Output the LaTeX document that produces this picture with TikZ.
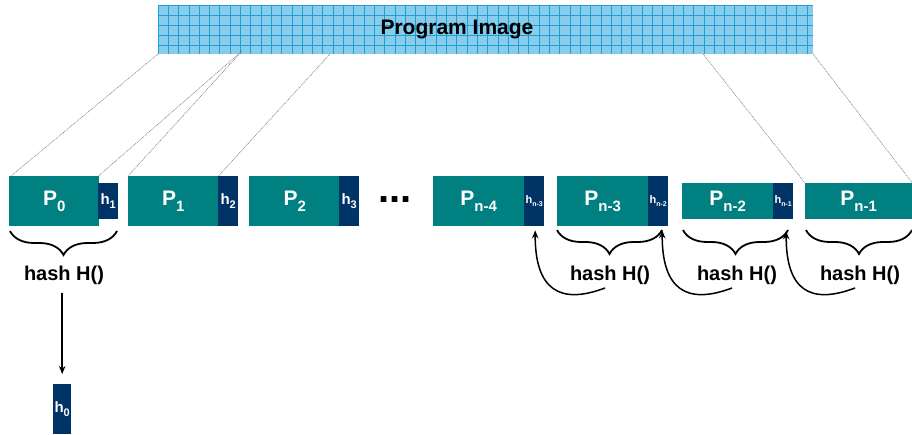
\documentclass[tikz,border=0pt]{standalone}
\usepackage{fontspec}
\setmainfont{Liberation Sans}
\usetikzlibrary{decorations.pathreplacing,arrows.meta,calc}
\definecolor{teal1}{RGB}{0,128,128}
\definecolor{navy1}{RGB}{0,51,102}
\definecolor{sky1}{RGB}{135,205,235}
\definecolor{gridblue}{RGB}{30,160,215}
\newcommand\PL[1]{{\fontsize{21}{21}\selectfont\bfseries P\raisebox{-6pt}{\fontsize{15}{15}\selectfont #1}}}
\newcommand\HL[1]{{\fontsize{15}{15}\selectfont\bfseries h\raisebox{-4pt}{\fontsize{11}{11}\selectfont #1}}}
\newcommand\HS[1]{{\fontsize{11}{11}\selectfont\bfseries h\raisebox{-3pt}{\fontsize{7}{7}\selectfont #1}}}
\begin{document}
\begin{tikzpicture}[x=1pt,y=-1pt,
  pbox/.style={fill=teal1, draw=none, inner sep=0pt, anchor=north west, minimum height=50pt, minimum width=91pt, text=white},
  hbox/.style={fill=navy1, draw=none, inner sep=0pt, anchor=north west, minimum height=50pt, minimum width=20pt, text=white},
  hashlbl/.style={font=\fontsize{20}{20}\selectfont\bfseries, anchor=base, inner sep=0pt},
  brc/.style={decorate, decoration={brace, amplitude=24pt, mirror}, line width=1.8pt},
  arr/.style={-{Stealth[length=8pt,width=6.5pt]}, line width=1.5pt},
  conn/.style={draw=gray, line width=0.6pt, dash pattern=on 1pt off 0.8pt}
]
\useasboundingbox (0,0) rectangle (912,435);
% program image
\node[fill=sky1, draw=none, inner sep=0pt, anchor=north west, minimum width=655pt, minimum height=49pt] (img) at (158,5) {};
\begin{scope}
  \clip (158,5) rectangle (813,54);
  \foreach \i in {0,...,64} {\draw[gridblue, line width=0.8pt] ({158+10.3*\i},5) -- ({158+10.3*\i},54);}
  \foreach \j in {0,...,5} {\draw[gridblue, line width=0.8pt] (158,{5+10*\j}) -- (813,{5+10*\j});}
\end{scope}
\node[font=\fontsize{21}{21}\selectfont\bfseries, inner sep=0pt] (imgtxt) at (457,30) {Program Image};

% blocks
\node[pbox, minimum width=90pt] (P0) at (9,176) {\PL{0}};
\node[hbox, minimum height=36pt] (h1) at (98,183) {\HL{1}};
\node[pbox, minimum width=90pt] (P1) at (128,176) {\PL{1}};
\node[hbox] (h2) at (218,176) {\HL{2}};
\node[pbox] (P2) at (249,176) {\PL{2}};
\node[hbox] (h3) at (339,176) {\HL{3}};
\node[font=\fontsize{40}{40}\selectfont\bfseries, inner sep=0pt, anchor=base] (dots) at (395,203) {...};
\node[pbox] (Pn4) at (433,176) {\PL{n-4}};
\node[hbox] (hn3) at (524,176) {\HS{n-3}};
\node[pbox] (Pn3) at (557,176) {\PL{n-3}};
\node[hbox] (hn2) at (648,176) {\HS{n-2}};
\node[pbox, minimum height=36pt] (Pn2) at (682,183) {\PL{n-2}};
\node[hbox, minimum height=36pt] (hn1) at (773,183) {\HS{n-1}};
\node[pbox, minimum height=36pt, minimum width=107pt] (Pn1) at (805,183) {\PL{n-1}};
\node[hbox, minimum width=18pt] (h0) at (53,384) {\HL{0}};

% connectors from program image
\coordinate (g1) at (158,54);
\coordinate (g2) at (242,51);
\coordinate (g3) at (330,54);
\coordinate (g4) at (703,54);
\coordinate (g5) at (813,54);
\draw[conn] (g1) -- ([xshift=2pt]P0.north west);
\draw[conn] (g2) -- ([xshift=-1pt]P0.north east);
\draw[conn] (g2) -- (P1.north west);
\draw[conn] (g3) -- (P1.north east);
\draw[conn] (g4) -- (Pn1.north west);
\draw[conn] (g5) -- (Pn1.north east);

% braces
\draw[brc] (10,231) -- (117,231);
\draw[brc] (557,230) -- (662,230);
\draw[brc] (683,230) -- (788,230);
\draw[brc] (806,230) -- (912,230);

% hash labels
\node[hashlbl] (hs0) at (64,281) {hash H()};
\node[hashlbl] (hs3) at (610,281) {hash H()};
\node[hashlbl] (hs2) at (737,281) {hash H()};
\node[hashlbl] (hs1) at (860,281) {hash H()};

% arrows
\coordinate (a0) at (62,293);
\draw[arr] (h0.north |- a0) -- ([yshift=10pt]h0.north);
\coordinate (c3) at (605,288);
\draw[arr] (c3) .. controls (560,305) and (535,290) .. ([xshift=1pt,yshift=-4pt]hn3.south);
\coordinate (c2) at (732,288);
\draw[arr] (c2) .. controls (687,305) and (662,290) .. ([xshift=4pt,yshift=-4pt]hn2.south);
\coordinate (c1) at (855,288);
\draw[arr] (c1) .. controls (810,305) and (786,290) .. ([xshift=3pt,yshift=-12pt]hn1.south);
\end{tikzpicture}
\end{document}
